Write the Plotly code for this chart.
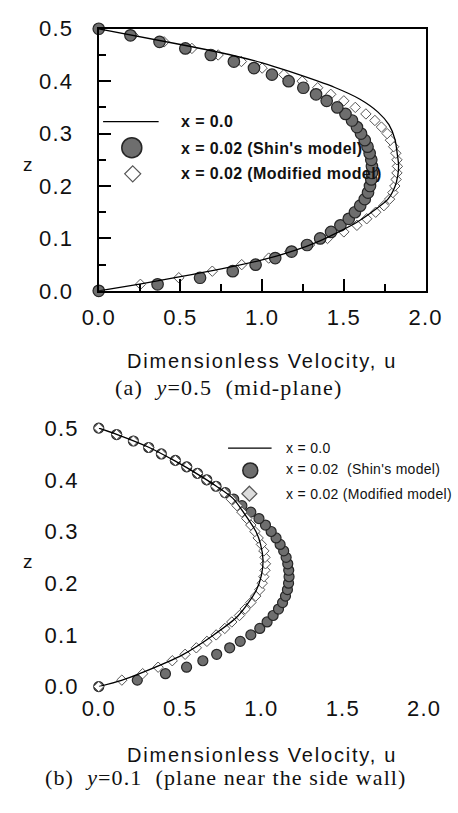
import plotly.graph_objects as go

W, H = 458, 813

# ---------------- data ----------------
z_grid = [0.0, 0.0125, 0.025, 0.0375, 0.05, 0.0625, 0.075, 0.0875, 0.1, 0.1125,
          0.125, 0.1375, 0.15, 0.1625, 0.175, 0.1875, 0.2, 0.2125, 0.225, 0.2375,
          0.25, 0.2625, 0.275, 0.2875, 0.3, 0.3125, 0.325, 0.3375, 0.35, 0.3625,
          0.375, 0.3875, 0.4, 0.4125, 0.425, 0.4375, 0.45, 0.4625, 0.475, 0.4875, 0.5]

# (a) y = 0.5 (mid-plane)
a_line_u = [0.0, 0.25, 0.5, 0.75, 1.0, 1.2, 1.35, 1.49, 1.58, 1.67, 1.77, 1.813, 1.83, 1.835,
            1.827, 1.813, 1.776, 1.709, 1.596, 1.445, 1.162, 1.0, 0.822, 0.5, 0.0]
a_line_z = [0.0, 0.013, 0.027, 0.042, 0.059, 0.077, 0.095, 0.116, 0.131, 0.150, 0.175, 0.199, 0.22, 0.24,
            0.261, 0.289, 0.317, 0.341, 0.366, 0.388, 0.419, 0.435, 0.449, 0.470, 0.5]
a_shin_u = [0.0, 0.36, 0.62, 0.82, 0.96, 1.08, 1.18, 1.275, 1.355, 1.422, 1.479, 1.53, 1.568, 1.60,
            1.628, 1.648, 1.66, 1.668, 1.672, 1.672, 1.668, 1.658, 1.645, 1.628, 1.605, 1.58,
            1.55, 1.51, 1.46, 1.395, 1.33, 1.252, 1.162, 1.06, 0.95, 0.827, 0.686, 0.53, 0.372, 0.194, 0.0]
a_mod_u = [0.0, 0.255, 0.49, 0.695, 0.875, 1.04, 1.17, 1.29, 1.40, 1.50, 1.58, 1.64, 1.695, 1.745,
           1.78, 1.80, 1.812, 1.82, 1.825, 1.828, 1.825, 1.818, 1.805, 1.785, 1.765, 1.73,
           1.69, 1.635, 1.57, 1.50, 1.42, 1.34, 1.245, 1.133, 1.0, 0.873, 0.731, 0.57, 0.40, 0.21, 0.0]

# (b) y = 0.1 (plane near the side wall)
b_line_u = [0.0, 0.14, 0.266, 0.512, 0.702, 0.854, 0.968, 1.0, 1.01, 0.995, 0.968, 0.892,
            0.825, 0.721, 0.607, 0.471, 0.307, 0.11, 0.0]
b_line_z = [0.0, 0.012, 0.027, 0.061, 0.099, 0.136, 0.186, 0.215, 0.245, 0.275, 0.299, 0.336,
            0.364, 0.388, 0.411, 0.436, 0.463, 0.488, 0.5]
b_shin_u = [0.0, 0.237, 0.41, 0.54, 0.64, 0.725, 0.805, 0.87, 0.935, 0.99, 1.035, 1.072, 1.105, 1.13,
            1.148, 1.16, 1.167, 1.17, 1.168, 1.162, 1.152, 1.137, 1.115, 1.09, 1.06, 1.025,
            0.985, 0.935, 0.88, 0.83, 0.778, 0.721, 0.664, 0.607, 0.541, 0.471, 0.385, 0.307, 0.213, 0.11, 0.0]
b_mod_u = [0.0, 0.142, 0.27, 0.365, 0.452, 0.531, 0.60, 0.665, 0.722, 0.775, 0.818, 0.865, 0.90, 0.935,
           0.965, 0.99, 1.005, 1.015, 1.022, 1.025, 1.022, 1.015, 1.0, 0.98, 0.96, 0.935,
           0.91, 0.88, 0.85, 0.815, 0.772, 0.72, 0.664, 0.607, 0.541, 0.471, 0.385, 0.307, 0.213, 0.11, 0.0]

x_ticks = [0.0, 0.5, 1.0, 1.5, 2.0]
z_ticks = [0.0, 0.1, 0.2, 0.3, 0.4, 0.5]
legend_labels = ["x = 0.0", "x = 0.02 (Shin's model)", "x = 0.02 (Modified model)"]
legend_labels_b = ["x = 0.0", "x = 0.02  (Shin's model)", "x = 0.02 (Modified model)"]
x_title = "Dimensionless Velocity, u"
z_title = "z"
cap_a = "(a)  <i>y</i>=0.5  (mid-plane)"
cap_b = "(b)  <i>y</i>=0.1  (plane near the side wall)"

# ---------------- styles ----------------
SANS = "Liberation Sans, Arial, sans-serif"
SERIF = "Liberation Serif, Times New Roman, serif"
CIRC_FILL = "#6e6e6e"
CIRC_LINE = "#262626"
DIA_LINE = "#555555"


def spaced(t, ls):
    return f'<span style="letter-spacing:{ls}px">{t}</span>'


x_ticktext = [spaced(f"{v:.1f}", 1.2) for v in x_ticks]
z_ticktext = [spaced(f"{v:.1f}", 1.2) for v in z_ticks]

fig = go.Figure()


def shin_trace(u, xa, ya, csize):
    return go.Scatter(x=u, y=z_grid, mode="markers", xaxis=xa, yaxis=ya,
                      marker=dict(symbol="circle", size=csize, color=CIRC_FILL,
                                  line=dict(color=CIRC_LINE, width=1.2)),
                      cliponaxis=False, showlegend=False)


def mod_trace(u, xa, ya, dsize):
    return go.Scatter(x=u, y=z_grid, mode="markers", xaxis=xa, yaxis=ya,
                      marker=dict(symbol="diamond", size=dsize, color="white",
                                  line=dict(color=DIA_LINE, width=1)),
                      cliponaxis=False, showlegend=False)


def line_trace(u, z, xa, ya):
    return go.Scatter(x=u, y=z, mode="lines", xaxis=xa, yaxis=ya,
                      line=dict(color="black", width=1.3, shape="spline", smoothing=0.8),
                      cliponaxis=False, showlegend=False)


# panel (a): diamonds under circles
fig.add_trace(mod_trace(a_mod_u, "x", "y", 8))
fig.add_trace(shin_trace(a_shin_u, "x", "y", 11.5))
fig.add_trace(line_trace(a_line_u, a_line_z, "x", "y"))
# panel (b): circles under diamonds
fig.add_trace(shin_trace(b_shin_u, "x2", "y2", 10))
fig.add_trace(mod_trace(b_mod_u, "x2", "y2", 8))
fig.add_trace(line_trace(b_line_u, b_line_z, "x2", "y2"))

tickfont = dict(family=SANS, size=22, color="#111111")


def px(x):
    return x / W


def py(y):
    return 1 - y / H


fig.update_layout(
    width=W, height=H, margin=dict(l=0, r=0, t=0, b=0),
    paper_bgcolor="white", plot_bgcolor="white", showlegend=False,
    xaxis=dict(domain=[px(88.3), px(441.3)], range=[0, 2], anchor="y",
               tickvals=x_ticks, ticktext=x_ticktext, tickfont=tickfont,
               showline=True, mirror=True, linecolor="black", linewidth=2.2,
               ticks="inside", ticklen=12, tickwidth=2, tickcolor="black",
               minor=dict(dtick=0.25, ticks="inside", ticklen=7, tickwidth=2, tickcolor="black"),
               showgrid=False, zeroline=False, ticklabelstandoff=6),
    yaxis=dict(domain=[py(287.7), py(17.3)], range=[0, 0.5], anchor="x",
               tickvals=z_ticks, ticktext=z_ticktext, tickfont=tickfont,
               showline=True, mirror=True, linecolor="black", linewidth=2.2,
               ticks="inside", ticklen=12, tickwidth=2, tickcolor="black",
               minor=dict(dtick=0.05, ticks="inside", ticklen=7, tickwidth=2, tickcolor="black"),
               showgrid=False, zeroline=False, ticklabelstandoff=19),
    xaxis2=dict(domain=[px(88.3), px(439.7)], range=[0, 2], anchor="y2",
                tickvals=x_ticks, ticktext=x_ticktext, tickfont=tickfont,
                showline=False, ticks="", showgrid=False, zeroline=False, ticklabelstandoff=6),
    yaxis2=dict(domain=[py(696), py(429.3)], range=[0, 0.5], anchor="x2",
                tickvals=z_ticks, ticktext=z_ticktext, tickfont=tickfont,
                showline=False, ticks="", showgrid=False, zeroline=False, ticklabelstandoff=19),
)

ann = []


def text(x, y, t, size, family=SANS, xanchor="center", bold=False, ls=None, color="#111111"):
    s = t
    if ls is not None:
        s = spaced(s, ls)
    if bold:
        s = f"<b>{s}</b>"
    ann.append(dict(x=px(x), y=py(y), xref="paper", yref="paper", text=s, showarrow=False,
                    xanchor=xanchor, yanchor="middle",
                    font=dict(family=family, size=size, color=color)))


# axis titles
text(265, 360, x_title, 20, ls=1.8)
text(265, 767, x_title, 20, ls=1.8)
text(12, 157, z_title, 19)
text(12, 567, z_title, 19)
# captions
text(229, 387, cap_a, 22, family=SERIF, ls=1.2)
text(225, 790, cap_b, 22, family=SERIF, ls=1.1)

# legend (a)
for lab, yy in zip(legend_labels, [113, 141, 167]):
    text(175, yy, lab, 16, xanchor="left", bold=True, ls=0.4)
# legend (b)
for lab, yy in zip(legend_labels_b, [450, 472, 497]):
    text(288, yy, lab, 14, xanchor="left", ls=0.3)

fig.update_layout(annotations=ann)

shapes = []


def leg_line(x0, x1, y):
    shapes.append(dict(type="line", xref="paper", yref="paper", x0=px(x0), x1=px(x1),
                       y0=py(y), y1=py(y), line=dict(color="black", width=1.3)))


def leg_circle(x, y, r):
    shapes.append(dict(type="circle", xref="paper", yref="paper", xsizemode="pixel",
                       ysizemode="pixel", xanchor=px(x), yanchor=py(y),
                       x0=-r, x1=r, y0=-r, y1=r, fillcolor=CIRC_FILL,
                       line=dict(color=CIRC_LINE, width=1.5)))


def leg_diamond(x, y, r, fill="white"):
    shapes.append(dict(type="path", xref="paper", yref="paper", xsizemode="pixel",
                       ysizemode="pixel", xanchor=px(x), yanchor=py(y),
                       path=f"M0,{r} L{r},0 L0,{-r} L{-r},0 Z", fillcolor=fill,
                       line=dict(color=DIA_LINE, width=1.2)))


leg_line(93, 153, 113)
leg_circle(124, 140, 10)
leg_diamond(125, 167, 8)
leg_line(228, 275, 450)
leg_circle(252, 473, 7.5)
leg_diamond(251, 497, 7.5, fill="#dcdcdc")

fig.update_layout(shapes=shapes)

fig.write_html("out.html")
